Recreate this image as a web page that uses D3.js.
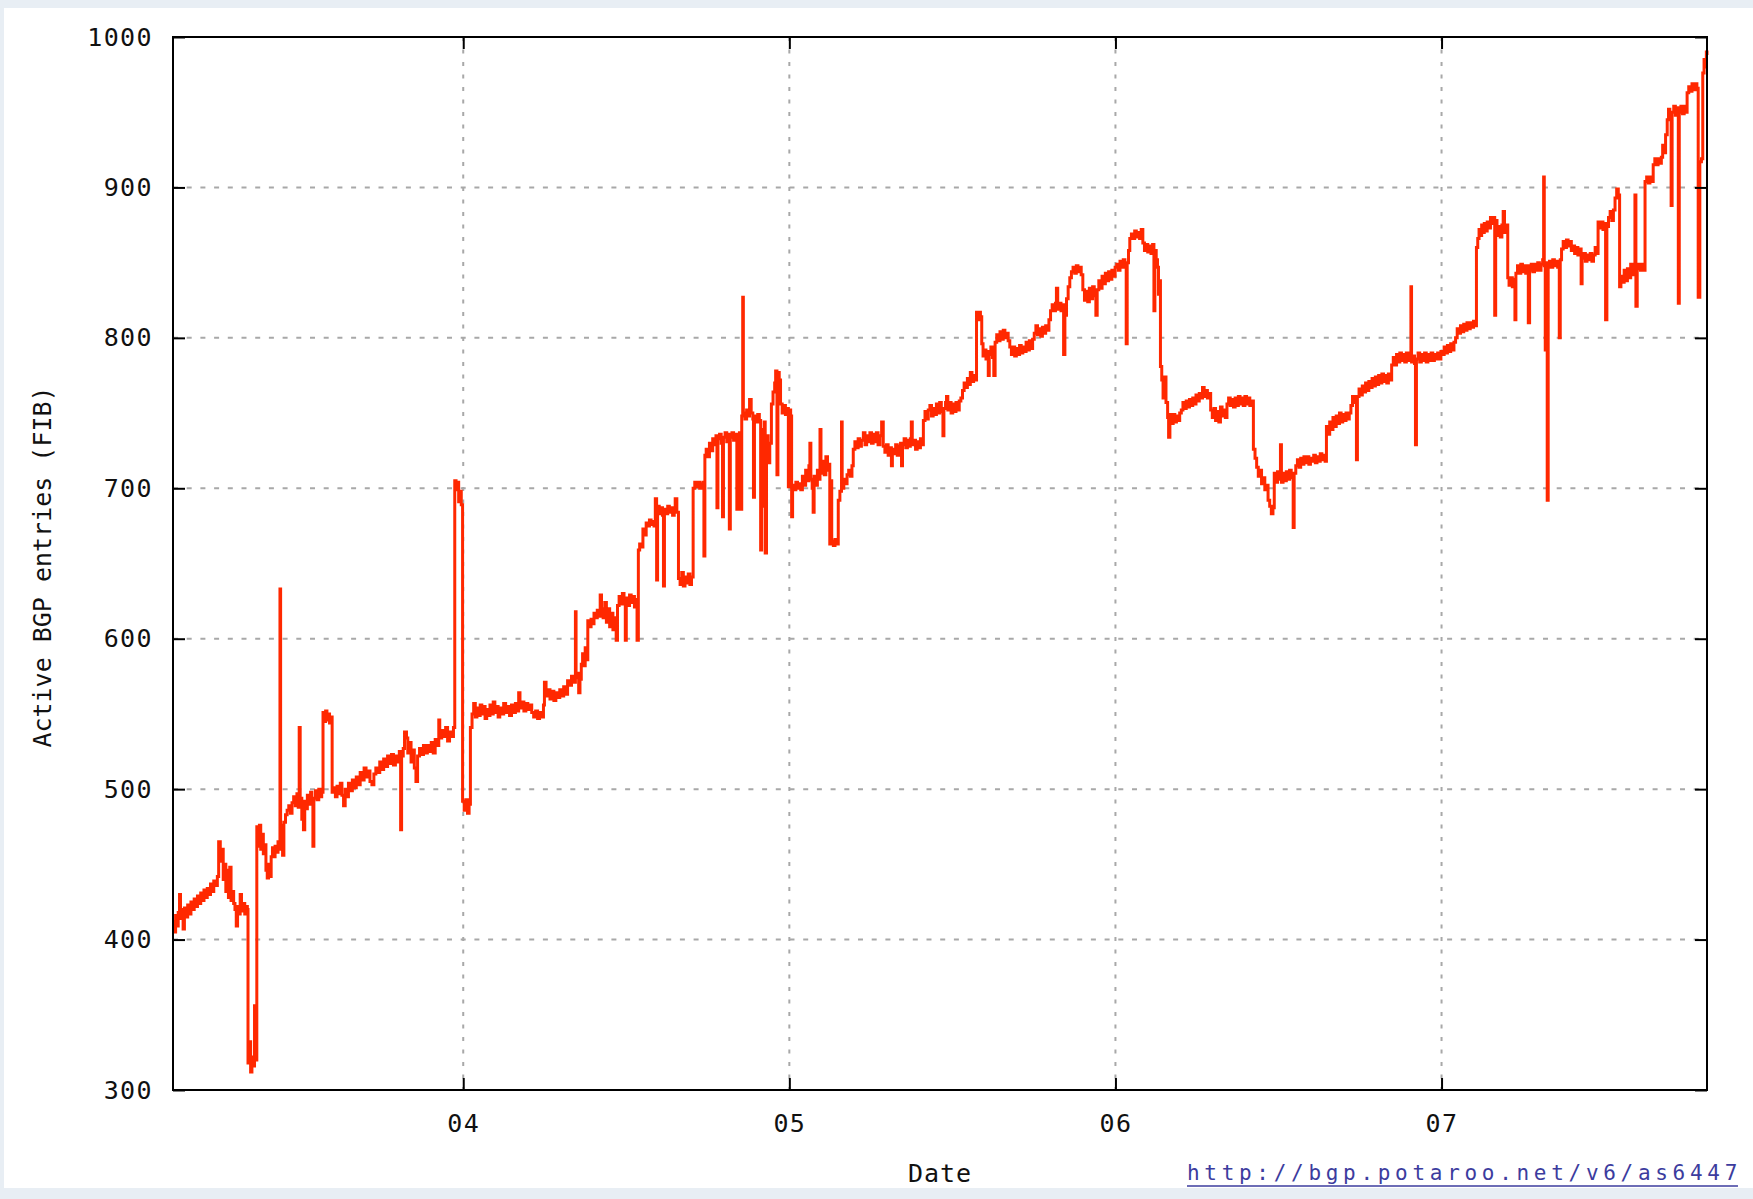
<!DOCTYPE html>
<html>
<head>
<meta charset="utf-8">
<script src="https://cdn.jsdelivr.net/npm/d3@7"></script>
<style>
  html, body { margin: 0; padding: 0; background: #e8eef4; }
  svg { display: block; }
</style>
</head>
<body>
<svg id="chart" width="1753" height="1199"></svg>
<script>
// ---- Data (decimal year, active BGP FIB entries) ----
const fib2003 = [
[2003.110,412],[2003.114,405],[2003.118,416],[2003.122,409],[2003.126,418],[2003.130,430],[2003.133,414],[2003.137,420],[2003.141,407],[2003.145,421],[2003.150,415],[2003.155,423],[2003.160,417],[2003.165,425],[2003.170,420],[2003.175,427],[2003.180,422],[2003.185,429],[2003.190,424],[2003.195,431],[2003.200,426],[2003.205,433],[2003.210,428],[2003.215,434],[2003.220,430],[2003.225,437],[2003.230,432],[2003.235,439],[2003.240,436],[2003.246,442],[2003.250,465],[2003.255,452],[2003.260,460],[2003.264,440],[2003.268,450],[2003.272,432],[2003.276,446],[2003.280,428],[2003.284,448],[2003.288,426],[2003.292,432],[2003.296,424],[2003.300,420],[2003.304,409],[2003.308,422],[2003.312,417],[2003.316,430],[2003.320,419],[2003.325,424],[2003.330,417],[2003.335,422],[2003.338,420],[2003.340,318],[2003.344,332],[2003.348,312],[2003.352,322],[2003.356,316],[2003.360,356],[2003.364,320],[2003.367,475],[2003.371,462],[2003.375,476],[2003.379,460],[2003.383,470],[2003.387,457],[2003.391,463],[2003.395,446],[2003.399,441],[2003.403,450],[2003.407,442],[2003.411,455],[2003.415,461],[2003.419,455],[2003.423,462],[2003.427,458],[2003.432,465],[2003.436,460],[2003.438,633],[2003.440,470],[2003.443,476],[2003.446,456],[2003.450,478],[2003.455,483],[2003.460,486],[2003.465,489],[2003.470,484],[2003.475,491],[2003.480,495],[2003.485,489],[2003.490,497],[2003.494,488],[2003.497,541],[2003.500,494],[2003.505,480],[2003.510,473],[2003.514,492],[2003.518,487],[2003.522,496],[2003.527,490],[2003.532,498],[2003.536,492],[2003.539,462],[2003.542,494],[2003.547,499],[2003.552,493],[2003.557,500],[2003.562,495],[2003.566,498],[2003.570,551],[2003.574,545],[2003.578,552],[2003.582,546],[2003.586,550],[2003.590,544],[2003.594,548],[2003.598,498],[2003.603,501],[2003.608,495],[2003.613,502],[2003.618,497],[2003.623,504],[2003.628,496],[2003.633,489],[2003.638,500],[2003.643,495],[2003.648,504],[2003.654,499],[2003.660,506],[2003.666,501],[2003.672,508],[2003.678,503],[2003.684,511],[2003.690,506],[2003.696,514],[2003.702,508],[2003.708,512],[2003.714,505],[2003.720,503],[2003.726,510],[2003.732,514],[2003.738,511],[2003.744,518],[2003.750,513],[2003.756,520],[2003.762,515],[2003.768,522],[2003.774,517],[2003.780,523],[2003.786,516],[2003.792,522],[2003.798,518],[2003.804,525],[2003.808,473],[2003.811,522],[2003.816,527],[2003.820,538],[2003.826,534],[2003.830,524],[2003.835,531],[2003.840,518],[2003.845,526],[2003.850,514],[2003.855,505],[2003.860,522],[2003.866,527],[2003.872,523],[2003.878,529],[2003.884,524],[2003.890,529],[2003.896,525],[2003.902,531],[2003.908,524],[2003.914,533],[2003.920,529],[2003.925,546],[2003.928,534],[2003.934,539],[2003.940,535],[2003.946,541],[2003.952,532],[2003.958,538],[2003.964,535],[2003.970,541],[2003.974,705],[2003.978,699],[2003.982,704],[2003.986,691],[2003.990,698],[2003.994,689]
];
const fib2004 = [
[2003.998,492],[2004.003,486],[2004.008,493],[2004.013,484],[2004.018,490],[2004.022,541],[2004.027,550],[2004.032,557],[2004.037,548],[2004.042,554],[2004.047,549],[2004.052,556],[2004.057,550],[2004.062,555],[2004.067,547],[2004.072,553],[2004.077,549],[2004.082,556],[2004.087,550],[2004.092,558],[2004.097,551],[2004.102,555],[2004.107,548],[2004.112,554],[2004.118,550],[2004.124,557],[2004.130,551],[2004.136,555],[2004.142,549],[2004.148,556],[2004.154,551],[2004.160,557],[2004.166,552],[2004.170,564],[2004.174,554],[2004.180,558],[2004.186,552],[2004.192,557],[2004.198,553],[2004.204,556],[2004.210,551],[2004.216,548],[2004.222,552],[2004.228,547],[2004.234,551],[2004.240,548],[2004.246,556],[2004.249,571],[2004.254,562],[2004.260,566],[2004.266,560],[2004.272,565],[2004.278,559],[2004.284,564],[2004.290,561],[2004.296,566],[2004.302,562],[2004.308,568],[2004.314,563],[2004.320,572],[2004.326,569],[2004.332,575],[2004.338,571],[2004.344,618],[2004.346,574],[2004.350,577],[2004.354,564],[2004.358,573],[2004.362,583],[2004.366,590],[2004.370,582],[2004.374,594],[2004.378,586],[2004.382,612],[2004.387,608],[2004.392,613],[2004.397,610],[2004.401,617],[2004.406,614],[2004.411,619],[2004.416,615],[2004.420,629],[2004.424,620],[2004.429,614],[2004.434,624],[2004.439,611],[2004.444,620],[2004.449,608],[2004.454,617],[2004.459,606],[2004.464,614],[2004.469,599],[2004.473,622],[2004.478,628],[2004.483,623],[2004.488,630],[2004.493,624],[2004.497,599],[2004.500,627],[2004.505,622],[2004.510,629],[2004.515,624],[2004.520,628],[2004.525,621],[2004.530,626],[2004.533,599],[2004.537,659],[2004.541,663],[2004.546,661],[2004.551,673],[2004.556,669],[2004.561,677],[2004.566,675],[2004.571,679],[2004.576,676],[2004.581,678],[2004.585,675],[2004.589,693],[2004.593,639],[2004.596,688],[2004.601,683],[2004.606,687],[2004.611,682],[2004.614,635],[2004.617,686],[2004.622,683],[2004.627,688],[2004.632,684],[2004.637,687],[2004.642,682],[2004.647,686],[2004.650,693],[2004.655,684],[2004.660,640],[2004.665,636],[2004.670,644],[2004.675,635],[2004.680,641],[2004.685,637],[2004.690,643],[2004.695,636],[2004.700,641],[2004.705,700],[2004.710,704],[2004.715,701],[2004.720,704],[2004.725,700],[2004.730,703],[2004.735,704],[2004.738,655],[2004.741,722],[2004.745,726],[2004.750,721],[2004.755,730],[2004.760,725],[2004.765,733],[2004.770,729],[2004.775,735],[2004.778,687],[2004.781,733],[2004.786,736],[2004.791,730],[2004.795,681],[2004.798,734],[2004.803,737],[2004.808,731],[2004.812,736],[2004.816,673],[2004.819,734],[2004.824,737],[2004.829,732],[2004.834,736],[2004.839,686],[2004.842,733],[2004.847,737],[2004.851,686],[2004.854,748],[2004.857,827],[2004.859,750],[2004.864,746],[2004.869,752],[2004.874,748],[2004.878,759],[2004.883,750],[2004.888,746],[2004.890,694],[2004.893,748],[2004.898,744],[2004.903,749],[2004.908,745],[2004.912,659],[2004.915,739],[2004.920,688],[2004.923,744],[2004.926,657],[2004.930,735],[2004.935,717],[2004.940,730],[2004.945,756],[2004.950,764],[2004.955,770],[2004.958,778],[2004.962,709],[2004.965,777],[2004.969,772],[2004.973,756],[2004.978,750],[2004.983,755],[2004.988,749],[2004.993,753],[2004.997,701],[2005.000,752]
];
const fib2005 = [
[2005.004,748],[2005.007,681],[2005.010,702],[2005.015,699],[2005.020,704],[2005.025,700],[2005.030,703],[2005.035,699],[2005.040,708],[2005.045,702],[2005.050,712],[2005.055,705],[2005.060,715],[2005.063,730],[2005.066,706],[2005.070,700],[2005.073,684],[2005.076,708],[2005.081,702],[2005.086,712],[2005.091,706],[2005.094,739],[2005.097,710],[2005.102,718],[2005.107,709],[2005.112,721],[2005.117,712],[2005.121,716],[2005.124,663],[2005.127,705],[2005.130,665],[2005.135,662],[2005.140,666],[2005.145,663],[2005.150,692],[2005.155,698],[2005.160,744],[2005.162,700],[2005.167,706],[2005.172,703],[2005.177,709],[2005.182,712],[2005.187,708],[2005.192,715],[2005.196,726],[2005.201,731],[2005.206,727],[2005.211,733],[2005.216,728],[2005.221,732],[2005.227,737],[2005.232,729],[2005.237,735],[2005.242,731],[2005.247,737],[2005.252,730],[2005.257,736],[2005.262,731],[2005.267,737],[2005.272,729],[2005.278,735],[2005.283,744],[2005.288,728],[2005.293,724],[2005.298,729],[2005.303,722],[2005.308,727],[2005.313,715],[2005.316,726],[2005.321,723],[2005.326,729],[2005.331,722],[2005.336,728],[2005.341,730],[2005.344,715],[2005.347,729],[2005.352,733],[2005.357,727],[2005.362,732],[2005.367,728],[2005.371,733],[2005.374,744],[2005.377,729],[2005.382,732],[2005.387,726],[2005.392,731],[2005.397,727],[2005.402,733],[2005.407,729],[2005.411,745],[2005.416,751],[2005.421,746],[2005.426,752],[2005.431,755],[2005.436,748],[2005.441,753],[2005.446,749],[2005.451,756],[2005.456,750],[2005.461,757],[2005.466,751],[2005.471,735],[2005.474,753],[2005.479,757],[2005.482,761],[2005.486,752],[2005.491,757],[2005.496,750],[2005.501,756],[2005.506,751],[2005.511,757],[2005.516,752],[2005.521,758],[2005.526,760],[2005.531,765],[2005.536,770],[2005.541,767],[2005.546,773],[2005.551,769],[2005.555,777],[2005.560,771],[2005.565,775],[2005.570,772],[2005.574,817],[2005.578,812],[2005.582,817],[2005.586,814],[2005.590,796],[2005.594,788],[2005.598,792],[2005.603,786],[2005.607,791],[2005.610,775],[2005.613,789],[2005.618,794],[2005.623,787],[2005.627,775],[2005.631,797],[2005.636,802],[2005.641,798],[2005.646,804],[2005.651,799],[2005.656,805],[2005.661,800],[2005.666,803],[2005.671,798],[2005.676,794],[2005.681,789],[2005.686,794],[2005.691,788],[2005.696,793],[2005.701,789],[2005.706,795],[2005.711,790],[2005.716,794],[2005.721,791],[2005.726,797],[2005.731,792],[2005.736,798],[2005.741,793],[2005.746,799],[2005.751,803],[2005.756,808],[2005.761,802],[2005.766,806],[2005.771,801],[2005.776,807],[2005.781,803],[2005.786,808],[2005.791,805],[2005.796,812],[2005.801,818],[2005.806,822],[2005.811,818],[2005.816,823],[2005.819,833],[2005.823,819],[2005.828,823],[2005.833,818],[2005.838,822],[2005.841,789],[2005.845,815],[2005.850,826],[2005.855,834],[2005.860,840],[2005.865,844],[2005.870,847],[2005.875,843],[2005.880,848],[2005.885,844],[2005.890,847],[2005.895,842],[2005.900,832],[2005.905,825],[2005.910,831],[2005.915,824],[2005.920,833],[2005.925,826],[2005.930,834],[2005.935,828],[2005.940,815],[2005.944,832],[2005.949,838],[2005.954,833],[2005.959,841],[2005.964,836],[2005.969,843],[2005.974,838],[2005.979,844],[2005.984,839],[2005.989,845],[2005.994,841],[2005.999,847]
];
const fib2006 = [
[2006.004,849],[2006.009,845],[2006.014,851],[2006.019,847],[2006.024,852],[2006.029,848],[2006.033,796],[2006.036,850],[2006.040,858],[2006.044,866],[2006.049,869],[2006.054,866],[2006.059,871],[2006.064,867],[2006.069,870],[2006.074,866],[2006.079,872],[2006.084,863],[2006.089,858],[2006.094,862],[2006.099,857],[2006.104,861],[2006.109,856],[2006.114,862],[2006.118,818],[2006.121,858],[2006.125,852],[2006.129,847],[2006.132,829],[2006.135,838],[2006.138,781],[2006.142,772],[2006.146,760],[2006.150,774],[2006.155,757],[2006.160,747],[2006.163,734],[2006.167,749],[2006.172,743],[2006.177,749],[2006.182,744],[2006.187,748],[2006.192,745],[2006.197,750],[2006.202,752],[2006.207,757],[2006.212,753],[2006.217,758],[2006.222,754],[2006.227,759],[2006.232,755],[2006.237,760],[2006.242,756],[2006.247,762],[2006.252,758],[2006.257,763],[2006.262,760],[2006.267,767],[2006.272,761],[2006.277,765],[2006.282,760],[2006.287,763],[2006.292,752],[2006.297,747],[2006.302,753],[2006.307,745],[2006.312,751],[2006.317,744],[2006.322,754],[2006.327,748],[2006.332,752],[2006.337,747],[2006.342,756],[2006.347,760],[2006.352,755],[2006.357,759],[2006.362,754],[2006.367,760],[2006.372,755],[2006.377,761],[2006.382,756],[2006.387,760],[2006.392,755],[2006.397,761],[2006.402,756],[2006.407,760],[2006.412,755],[2006.418,758],[2006.423,726],[2006.428,720],[2006.433,714],[2006.438,708],[2006.443,712],[2006.448,703],[2006.453,707],[2006.458,699],[2006.463,702],[2006.468,692],[2006.473,688],[2006.478,683],[2006.483,687],[2006.487,710],[2006.492,704],[2006.497,711],[2006.502,706],[2006.506,729],[2006.509,704],[2006.514,710],[2006.519,705],[2006.524,711],[2006.529,706],[2006.534,712],[2006.539,707],[2006.545,674],[2006.548,710],[2006.553,715],[2006.558,719],[2006.563,714],[2006.568,720],[2006.573,716],[2006.578,721],[2006.583,717],[2006.588,721],[2006.593,716],[2006.598,720],[2006.603,718],[2006.608,722],[2006.613,717],[2006.618,721],[2006.623,718],[2006.628,723],[2006.633,719],[2006.638,722],[2006.643,718],[2006.647,741],[2006.652,736],[2006.657,744],[2006.662,739],[2006.667,747],[2006.672,741],[2006.677,748],[2006.682,743],[2006.687,750],[2006.692,744],[2006.697,749],[2006.702,745],[2006.707,750],[2006.712,746],[2006.717,750],[2006.722,755],[2006.727,761],[2006.731,757],[2006.735,761],[2006.739,719],[2006.742,761],[2006.747,766],[2006.752,762],[2006.757,768],[2006.762,764],[2006.767,770],[2006.772,765],[2006.777,771],[2006.782,767],[2006.787,773],[2006.792,768],[2006.797,774],[2006.802,769],[2006.807,775],[2006.812,770],[2006.817,776],[2006.822,771],[2006.827,775],[2006.832,770],[2006.837,776],[2006.842,772],[2006.847,782],[2006.852,787],[2006.857,782],[2006.862,789],[2006.867,784],[2006.872,790],[2006.877,785],[2006.882,789],[2006.887,784],[2006.892,790],[2006.897,785],[2006.902,789],[2006.906,834],[2006.908,784],[2006.913,788],[2006.917,783],[2006.920,729],[2006.923,786],[2006.928,790],[2006.933,784],[2006.938,789],[2006.943,785],[2006.948,790],[2006.953,784],[2006.958,789],[2006.963,785],[2006.968,790],[2006.973,785],[2006.978,789],[2006.983,786],[2006.988,790],[2006.993,786],[2006.998,791]
];
const fib2007 = [
[2007.003,789],[2007.008,794],[2007.013,790],[2007.018,795],[2007.023,791],[2007.028,796],[2007.033,792],[2007.038,797],[2007.043,800],[2007.048,806],[2007.053,803],[2007.058,808],[2007.063,804],[2007.068,809],[2007.073,805],[2007.078,810],[2007.083,806],[2007.088,810],[2007.093,807],[2007.098,811],[2007.103,808],[2007.107,860],[2007.111,866],[2007.115,872],[2007.119,868],[2007.123,875],[2007.127,870],[2007.131,876],[2007.135,871],[2007.140,877],[2007.145,873],[2007.150,880],[2007.155,876],[2007.160,880],[2007.163,815],[2007.166,878],[2007.170,868],[2007.175,874],[2007.180,867],[2007.185,875],[2007.189,884],[2007.193,870],[2007.198,875],[2007.203,840],[2007.207,835],[2007.212,840],[2007.217,834],[2007.222,839],[2007.225,812],[2007.228,843],[2007.233,848],[2007.238,843],[2007.243,849],[2007.248,844],[2007.253,848],[2007.258,843],[2007.263,848],[2007.266,810],[2007.270,845],[2007.275,849],[2007.280,844],[2007.285,849],[2007.290,845],[2007.295,850],[2007.300,845],[2007.305,849],[2007.310,852],[2007.313,907],[2007.315,848],[2007.318,792],[2007.321,850],[2007.324,692],[2007.327,848],[2007.331,851],[2007.336,847],[2007.341,852],[2007.346,848],[2007.351,851],[2007.356,847],[2007.361,800],[2007.364,852],[2007.368,859],[2007.373,864],[2007.378,860],[2007.383,865],[2007.388,861],[2007.393,864],[2007.398,858],[2007.403,861],[2007.408,856],[2007.413,860],[2007.418,855],[2007.423,859],[2007.428,836],[2007.431,853],[2007.436,856],[2007.441,851],[2007.446,855],[2007.451,852],[2007.456,856],[2007.461,851],[2007.466,855],[2007.471,860],[2007.476,856],[2007.480,877],[2007.485,873],[2007.490,877],[2007.495,872],[2007.500,876],[2007.503,812],[2007.507,874],[2007.512,880],[2007.517,884],[2007.522,878],[2007.527,885],[2007.532,893],[2007.537,899],[2007.542,895],[2007.546,834],[2007.550,841],[2007.555,837],[2007.560,845],[2007.565,838],[2007.570,846],[2007.575,840],[2007.580,849],[2007.585,842],[2007.590,848],[2007.593,895],[2007.596,821],[2007.600,846],[2007.605,849],[2007.610,845],[2007.615,849],[2007.620,845],[2007.624,904],[2007.629,907],[2007.634,903],[2007.639,907],[2007.644,904],[2007.649,915],[2007.654,919],[2007.659,915],[2007.664,919],[2007.669,916],[2007.674,920],[2007.678,928],[2007.682,923],[2007.687,935],[2007.692,945],[2007.696,952],[2007.700,947],[2007.704,888],[2007.707,950],[2007.712,954],[2007.717,948],[2007.722,953],[2007.726,823],[2007.729,950],[2007.734,954],[2007.739,949],[2007.744,954],[2007.749,950],[2007.753,963],[2007.758,967],[2007.763,964],[2007.768,969],[2007.773,965],[2007.778,969],[2007.783,966],[2007.787,827],[2007.792,917],[2007.797,919],[2007.801,976],[2007.805,985],[2007.809,980],[2007.812,990],[2007.814,988]
];

const xDomain = [2003.11, 2007.814];
const yDomain = [300, 1000];
const xTicks = [2004, 2005, 2006, 2007];
const xTickLabels = ["04", "05", "06", "07"];
const yTicks = [300, 400, 500, 600, 700, 800, 900, 1000];
const yTitle = "Active BGP entries (FIB)";
const xTitle = "Date";
const sourceUrl = "http://bgp.potaroo.net/v6/as6447";

// ---- Layout ----
const W = 1753, H = 1199;
const plot = { left: 173, right: 1707, top: 37, bottom: 1090 };
const MONO = "'DejaVu Sans Mono', 'Liberation Mono', monospace";

const svg = d3.select("#chart");
svg.append("rect").attr("x", 0).attr("y", 0).attr("width", W).attr("height", H).attr("fill", "#e8eef4");
svg.append("rect").attr("x", 4).attr("y", 8).attr("width", W - 4).attr("height", 1180).attr("fill", "#ffffff");

const x = d3.scaleLinear().domain(xDomain).range([plot.left, plot.right]);
const y = d3.scaleLinear().domain(yDomain).range([plot.bottom, plot.top]);

// grid
const grid = svg.append("g");
grid.selectAll("line.h").data(yTicks.filter(v => v > yDomain[0] && v < yDomain[1])).enter()
  .append("line").attr("class", "h")
  .attr("x1", plot.left).attr("x2", plot.right)
  .attr("y1", d => y(d)).attr("y2", d => y(d))
  .attr("stroke", "#a8a8a8").attr("stroke-width", 2).attr("stroke-dasharray", "5,8.7");
grid.selectAll("line.v").data(xTicks).enter()
  .append("line").attr("class", "v")
  .attr("x1", d => x(d)).attr("x2", d => x(d))
  .attr("y1", plot.top).attr("y2", plot.bottom)
  .attr("stroke", "#a8a8a8").attr("stroke-width", 2).attr("stroke-dasharray", "4,8.5");

// data line
const series = [].concat(fib2003, fib2004, fib2005, fib2006, fib2007);
const line = d3.line().x(d => x(d[0])).y(d => y(d[1])).curve(d3.curveStepAfter);
svg.append("path").datum(series)
  .attr("d", line).attr("fill", "none")
  .attr("stroke", "#ff2800").attr("stroke-width", 3).attr("stroke-linejoin", "miter");

// axes
const axisFont = g => g.selectAll("text").attr("font-family", MONO).attr("font-size", 25)
  .attr("letter-spacing", 1.4).attr("fill", "#111");
const styleAxis = g => {
  g.select(".domain").remove();
  g.selectAll(".tick line").attr("stroke", "#000").attr("stroke-width", 2);
};
svg.append("g").attr("transform", `translate(${plot.left},0)`)
  .call(d3.axisLeft(y).tickValues(yTicks).tickSize(-12).tickPadding(20).tickFormat(d3.format("d")))
  .call(styleAxis).call(axisFont);
svg.append("g").attr("transform", `translate(${plot.right},0)`)
  .call(d3.axisRight(y).tickValues(yTicks).tickSize(-12).tickFormat(""))
  .call(styleAxis);
svg.append("g").attr("transform", `translate(0,${plot.bottom})`)
  .call(d3.axisBottom(x).tickValues(xTicks).tickSize(-12).tickPadding(24)
    .tickFormat((d, i) => xTickLabels[i]))
  .call(styleAxis).call(axisFont);
svg.append("g").attr("transform", `translate(0,${plot.top})`)
  .call(d3.axisTop(x).tickValues(xTicks).tickSize(-12).tickFormat(""))
  .call(styleAxis);

// frame
svg.append("rect")
  .attr("x", plot.left).attr("y", plot.top)
  .attr("width", plot.right - plot.left).attr("height", plot.bottom - plot.top)
  .attr("fill", "none").attr("stroke", "#000").attr("stroke-width", 2);

// titles
svg.append("text")
  .attr("transform", `translate(51,567) rotate(-90)`)
  .attr("text-anchor", "middle")
  .attr("font-family", MONO).attr("font-size", 25).attr("fill", "#111")
  .text(yTitle);
svg.append("text")
  .attr("x", (plot.left + plot.right) / 2).attr("y", 1182)
  .attr("text-anchor", "middle")
  .attr("font-family", MONO).attr("font-size", 25).attr("letter-spacing", 1).attr("fill", "#111")
  .text(xTitle);

// source link
const url = svg.append("text")
  .attr("x", 1187).attr("y", 1180)
  .attr("font-family", MONO).attr("font-size", 21).attr("letter-spacing", 4.7)
  .attr("fill", "#3c3c9e")
  .text(sourceUrl);
const bb = url.node().getBBox();
svg.append("line")
  .attr("x1", bb.x).attr("x2", bb.x + bb.width - 4)
  .attr("y1", 1186).attr("y2", 1186)
  .attr("stroke", "#3c3c9e").attr("stroke-width", 1.6);
</script>
</body>
</html>
